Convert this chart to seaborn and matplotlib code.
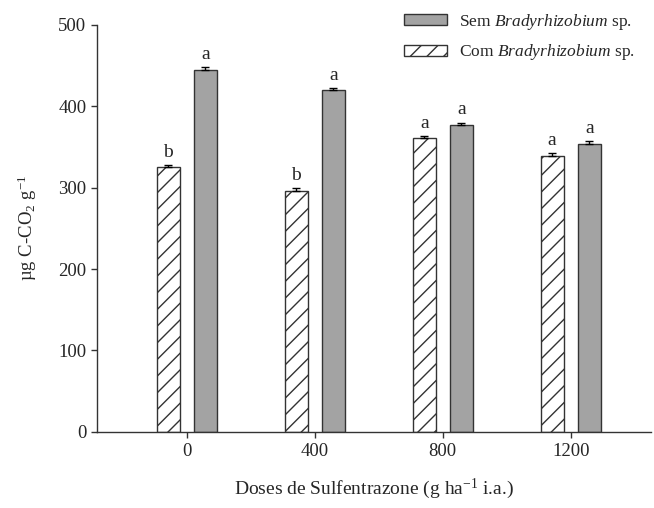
import numpy as np
import pandas as pd
import matplotlib
matplotlib.use("Agg")
import matplotlib.pyplot as plt
import seaborn as sns
from matplotlib.patches import Patch

# dados
doses = ["0", "400", "800", "1200"]
com_brady = [325, 296, 361, 339]
sem_brady = [445, 420, 377, 354]
com_err = [3, 3, 2, 3]
sem_err = [3, 2, 3, 3]
com_letras = ["b", "b", "a", "a"]
sem_letras = ["a", "a", "a", "a"]

grupos = ["Com", "Sem"]
cores = {"Com": "white", "Sem": "#a3a3a3"}

sns.set_theme(style="ticks")
plt.rcParams['font.family'] = ['Liberation Serif', 'DejaVu Serif']
plt.rcParams['mathtext.fontset'] = 'custom'
plt.rcParams['mathtext.rm'] = 'Liberation Serif'
plt.rcParams['mathtext.it'] = 'Liberation Serif:italic'
plt.rcParams['hatch.linewidth'] = 1.0
plt.rcParams['hatch.color'] = '#222222'

df = pd.DataFrame({
    "dose": doses * 2,
    "grupo": ["Com"] * 4 + ["Sem"] * 4,
    "valor": com_brady + sem_brady,
})

fig = plt.figure(figsize=(6.54, 5.08), dpi=100)
ax = fig.add_axes([0.148, 0.150, 0.847, 0.801])

sns.barplot(data=df, x="dose", y="valor", hue="grupo", order=doses,
            hue_order=grupos, palette=cores, width=0.58, gap=0.38,
            edgecolor="#333333", linewidth=1.0, errorbar=None,
            legend=False, ax=ax)

# hachura nas barras "Com"
n = len(doses)
patches = [p for p in ax.patches][:2 * n]
for p in patches[:n]:
    p.set_hatch("//")

vals = [com_brady, sem_brady]
errs = [com_err, sem_err]
letras = [com_letras, sem_letras]
for gi in range(2):
    for i in range(n):
        p = patches[gi * n + i]
        xc = p.get_x() + p.get_width() / 2
        v = vals[gi][i]
        e = errs[gi][i]
        ax.errorbar(xc, v, yerr=[[0], [e]], fmt="none", ecolor="black",
                    elinewidth=1.0, capsize=3, capthick=1.0)
        ax.text(xc, v + e + 5, letras[gi][i], ha="center", va="bottom",
                fontsize=14)

ax.set_ylim(0, 500)
ax.set_yticks([0, 100, 200, 300, 400, 500])
ax.set_xlim(-0.703, 3.625)
ax.tick_params(axis="both", labelsize=13.5, direction="out", length=4,
               width=1.0, color="#333333")
ax.tick_params(axis="x", pad=4)
ax.set_ylabel("µg C-CO$_2$ g$^{-1}$", fontsize=13.5, labelpad=14)
ax.set_xlabel(r"Doses de Sulfentrazone (g ha$^{-1}$ i.a.)", fontsize=14,
              labelpad=12)
for s in ["top", "right"]:
    ax.spines[s].set_visible(False)
for s in ["left", "bottom"]:
    ax.spines[s].set_color("#333333")
    ax.spines[s].set_linewidth(1.0)

handles = [
    Patch(facecolor=cores["Sem"], edgecolor="#333333", linewidth=1.0),
    Patch(facecolor="white", edgecolor="#333333", linewidth=1.0, hatch="//"),
]
labels = [r"Sem $\it{Bradyrhizobium}$ sp.", r"Com $\it{Bradyrhizobium}$ sp."]
ax.legend(handles, labels, loc="upper right", bbox_to_anchor=(1.0, 1.07),
          frameon=False, fontsize=12.5, handlelength=2.5, handleheight=0.6,
          handletextpad=0.7, labelspacing=0.6)

fig.savefig("out.png", dpi=100)
